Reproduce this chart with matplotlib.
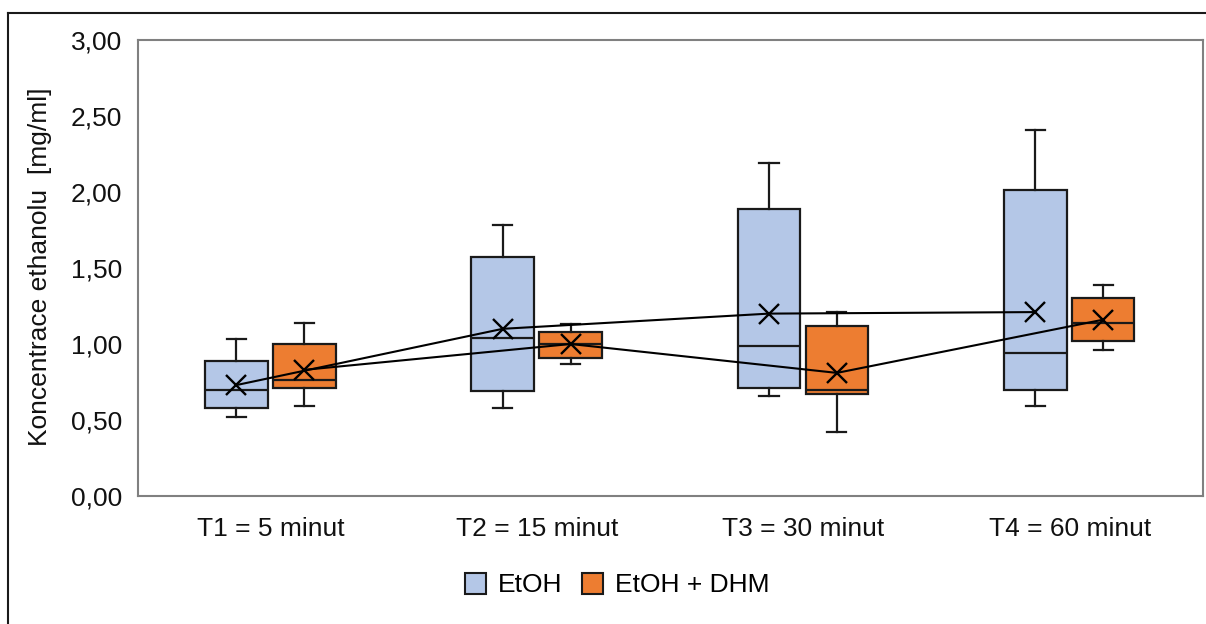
import numpy as np
import matplotlib
matplotlib.use('Agg')
import matplotlib.pyplot as plt
from matplotlib.patches import Patch
from matplotlib.lines import Line2D
from matplotlib.ticker import FuncFormatter

plt.rcParams['font.family'] = ['Liberation Sans', 'DejaVu Sans']

categories = ['T1 = 5 minut', 'T2 = 15 minut', 'T3 = 30 minut', 'T4 = 60 minut']
series = ['EtOH', 'EtOH + DHM']

# per category: whisker low, Q1, median, Q3, whisker high, mean
etoh_low = [0.52, 0.58, 0.66, 0.59]
etoh_q1 = [0.58, 0.69, 0.71, 0.70]
etoh_med = [0.70, 1.04, 0.99, 0.94]
etoh_q3 = [0.89, 1.57, 1.89, 2.01]
etoh_high = [1.03, 1.78, 2.19, 2.41]
etoh_mean = [0.73, 1.10, 1.20, 1.21]

dhm_low = [0.59, 0.87, 0.42, 0.96]
dhm_q1 = [0.71, 0.91, 0.67, 1.02]
dhm_med = [0.76, 1.00, 0.70, 1.14]
dhm_q3 = [1.00, 1.08, 1.12, 1.30]
dhm_high = [1.14, 1.13, 1.21, 1.39]
dhm_mean = [0.83, 1.00, 0.81, 1.16]

colors = ['#B4C7E7', '#ED7D31']


def make_stats(low, q1, med, q3, high, mean):
    return [dict(whislo=a, q1=b, med=c, q3=d, whishi=e, mean=f, fliers=[])
            for a, b, c, d, e, f in zip(low, q1, med, q3, high, mean)]


fig = plt.figure(figsize=(12.06, 6.24), dpi=100)
ax = fig.add_axes([0.1144, 0.2051, 0.8831, 0.7308])

x = np.arange(len(categories))
offsets = [-0.13, 0.125]
groups = [
    make_stats(etoh_low, etoh_q1, etoh_med, etoh_q3, etoh_high, etoh_mean),
    make_stats(dhm_low, dhm_q1, dhm_med, dhm_q3, dhm_high, dhm_mean),
]
means = [etoh_mean, dhm_mean]

for stats, off, col, mn in zip(groups, offsets, colors, means):
    pos = x + off
    ax.bxp(stats, positions=pos, widths=0.235, patch_artist=True,
           showfliers=False, showmeans=False, capwidths=0.072,
           boxprops=dict(facecolor=col, edgecolor='#1a1a1a', linewidth=1.6),
           medianprops=dict(color='#1a1a1a', linewidth=1.6),
           whiskerprops=dict(color='#1a1a1a', linewidth=1.6),
           capprops=dict(color='#1a1a1a', linewidth=1.6),
           manage_ticks=False, zorder=2)
    ax.plot(pos, mn, color='black', linewidth=1.5, marker='x',
            markersize=14, markeredgewidth=1.7, zorder=4)

ax.set_xlim(-0.5, len(categories) - 0.5)
ax.set_ylim(0, 3)
ax.set_yticks(np.arange(0, 3.01, 0.5))
ax.yaxis.set_major_formatter(FuncFormatter(lambda v, p: f'{v:.2f}'.replace('.', ',')))
ax.set_xticks(x)
ax.set_xticklabels(categories)
ax.tick_params(axis='both', length=0, labelsize=19, colors='#111111')
ax.tick_params(axis='y', pad=11.5)
ax.tick_params(axis='x', pad=15)
for s in ax.spines.values():
    s.set_color('#808080')
    s.set_linewidth(1.5)

fig.text(0.033, 0.572, 'Koncentrace ethanolu  [mg/ml]', rotation=90,
         ha='center', va='center', fontsize=19, color='#111111')

handles = [Patch(facecolor=c, edgecolor='#1a1a1a', linewidth=1.5, label=s)
           for c, s in zip(colors, series)]
fig.legend(handles=handles, loc='center', bbox_to_anchor=(0.512, 0.0625), ncol=2,
           frameon=False, fontsize=19, handlelength=0.8, handleheight=0.85,
           handletextpad=0.45, columnspacing=0.75)

# outer frame (top and left edges visible)
fig.add_artist(Line2D([8 / 1206, 1], [1 - 13 / 624, 1 - 13 / 624],
                      color='#1a1a1a', linewidth=1.5))
fig.add_artist(Line2D([8 / 1206, 8 / 1206], [0, 1 - 13 / 624],
                      color='#1a1a1a', linewidth=1.5))

fig.savefig('out.png', dpi=100)
